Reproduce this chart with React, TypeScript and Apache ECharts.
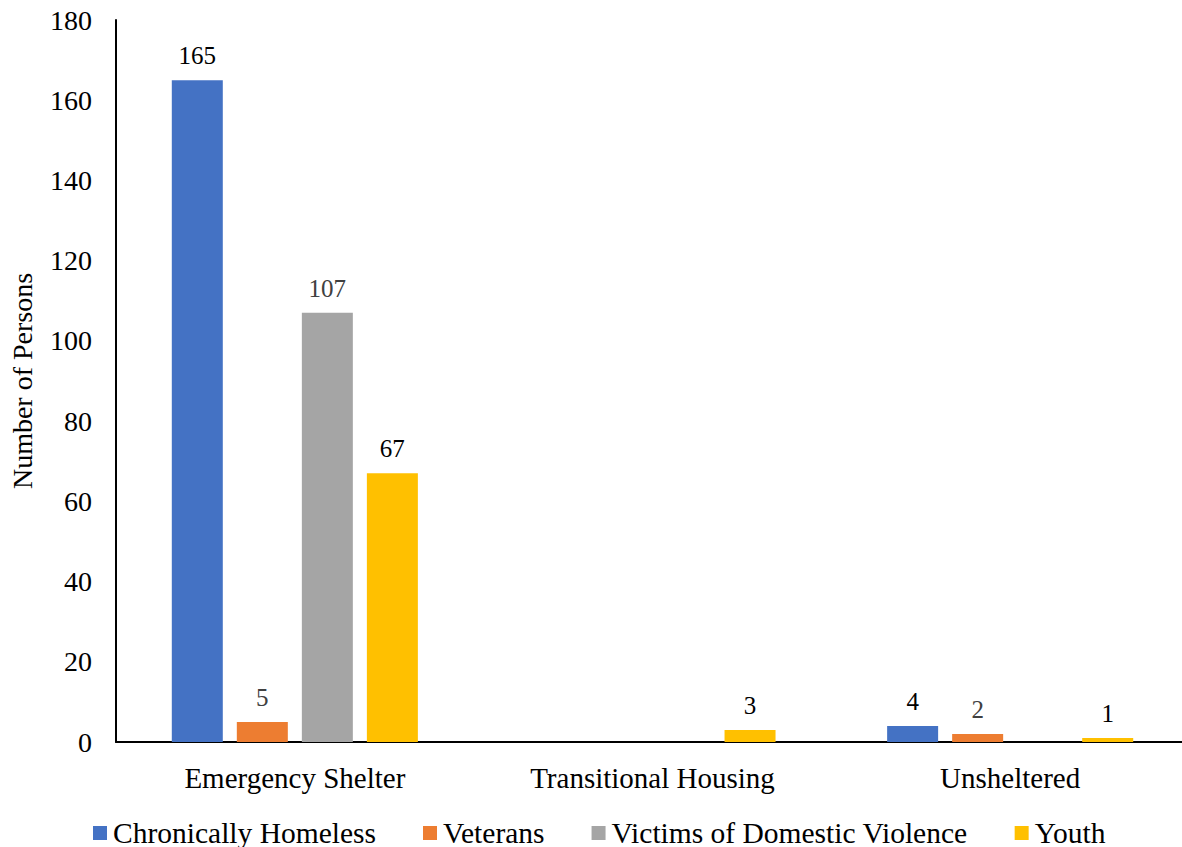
import React, { useEffect, useRef } from "react";
import * as echarts from "echarts";

const categories = ["Emergency Shelter", "Transitional Housing", "Unsheltered"];
const seriesNames = ["Chronically Homeless", "Veterans", "Victims of Domestic Violence", "Youth"];
const chronicallyHomeless = [165, null, 4];
const veterans = [5, null, 2];
const victimsDV = [107, null, null];
const youth = [67, 3, 1];
const colors = ["#4472C4", "#ED7D31", "#A5A5A5", "#FFC000"];
const labelColors = ["#000000", "#404040", "#404040", "#000000"];
const yTicks = { min: 0, max: 180, interval: 20 };

const FONT = "'Liberation Serif', 'Times New Roman', serif";

export default function App() {
  const ref = useRef<HTMLDivElement>(null);
  useEffect(() => {
    if (!ref.current) return;
    const chart = echarts.init(ref.current, undefined, { renderer: "svg" });
    const data = [chronicallyHomeless, veterans, victimsDV, youth];
    chart.setOption({
      animation: false,
      textStyle: { fontFamily: FONT },
      grid: { left: 115, right: 0, top: 20, bottom: 105, containLabel: false },
      legend: {
        bottom: -1,
        left: 93,
        padding: 0,
        itemWidth: 14,
        itemHeight: 14,
        itemGap: 47,
        icon: "rect",
        textStyle: { fontFamily: FONT, fontSize: 29.5, color: "#000", padding: [0, 0, 0, 1] },
        data: seriesNames,
      },
      xAxis: {
        type: "category",
        data: categories,
        axisLine: { show: true, lineStyle: { color: "#000", width: 2 } },
        axisTick: { show: false },
        axisLabel: { fontFamily: FONT, fontSize: 29, color: "#000", margin: 21 },
      },
      yAxis: {
        type: "value",
        min: yTicks.min,
        max: yTicks.max,
        interval: yTicks.interval,
        name: "Number of Persons",
        nameLocation: "middle",
        nameGap: 80,
        nameTextStyle: { fontFamily: FONT, fontSize: 28, color: "#000" },
        axisLine: { show: true, lineStyle: { color: "#000", width: 2 } },
        axisTick: { show: false },
        splitLine: { show: false },
        axisLabel: { fontFamily: FONT, fontSize: 28, color: "#000", margin: 24 },
      },
      series: seriesNames.map((name, i) => ({
        name,
        type: "bar",
        data: data[i],
        barWidth: 51,
        barGap: "27.5%",
        itemStyle: { color: colors[i] },
        label: {
          show: true,
          position: "top",
          distance: 12,
          fontFamily: FONT,
          fontSize: 25,
          color: labelColors[i],
        },
      })),
    });
    return () => chart.dispose();
  }, []);
  return (
    <div
      style={{ position: "absolute", left: 0, top: 0, width: 1182, height: 847, overflow: "hidden", background: "#fff" }}
    >
      <div ref={ref} style={{ width: 1189, height: 847 }} />
    </div>
  );
}
